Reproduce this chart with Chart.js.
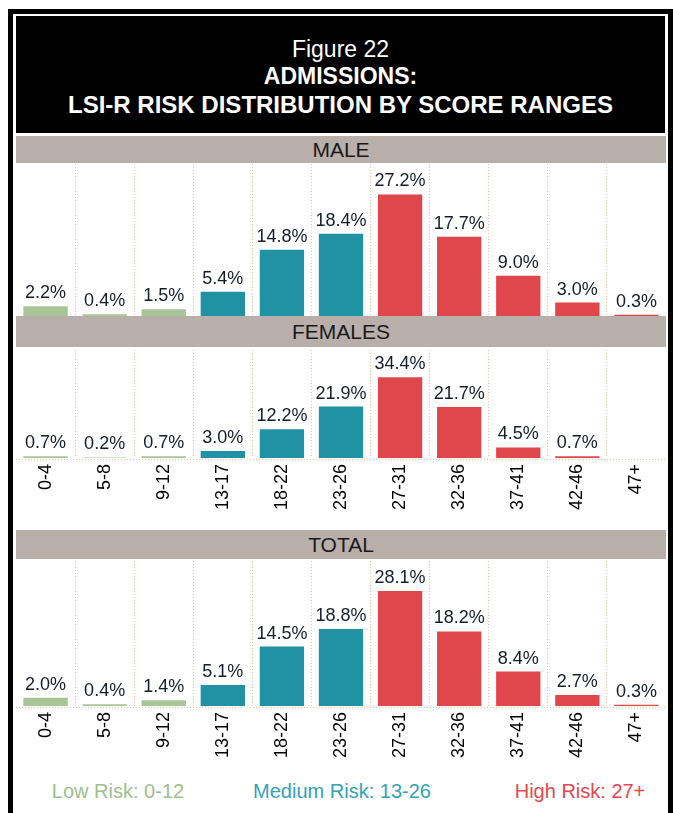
<!DOCTYPE html>
<html>
<head>
<meta charset="utf-8">
<script src="https://cdn.jsdelivr.net/npm/chart.js@4.4.1/dist/chart.umd.min.js"></script>
<style>
  body { margin: 0; background: #fff; width: 673px; height: 813px; overflow: hidden; position: relative; }
  .narrow { font-family: "Liberation Sans Narrow", "Arial Narrow", "Liberation Sans", sans-serif; }
  #frame { position: absolute; left: 8px; top: 9px; width: 665px; height: 820px; border: 5px solid #000; box-sizing: border-box; background: #fff; }
  #title { position: absolute; left: 16px; top: 16px; width: 649px; height: 117px; background: #000; color: #fff; text-align: center; }
  #title div { position: absolute; left: 0; right: 0; }
  .strip { position: absolute; left: 16px; width: 650px; background: #b8afaa; color: #1a1a1a; text-align: center; font-size: 21px; }
  .box { position: absolute; left: 16px; width: 650px; }
  .legend { position: absolute; top: 780px; font-size: 20px; text-align: center; width: 220px; }
</style>
</head>
<body>
<div id="frame"></div>
<div id="title" class="narrow">
  <div style="top:20px;font-size:23px;">Figure 22</div>
  <div style="top:47px;font-size:23px;font-weight:bold;">ADMISSIONS:</div>
  <div style="top:75px;font-size:24px;font-weight:bold;">LSI-R RISK DISTRIBUTION BY SCORE RANGES</div>
</div>

<div class="strip narrow" style="top:136px;height:27px;line-height:28px;">MALE</div>
<div class="box" style="top:164px;height:152px;"><canvas id="male"></canvas></div>

<div class="strip narrow" style="top:316px;height:31px;line-height:31px;">FEMALES</div>
<div class="box" style="top:350px;height:178px;"><canvas id="female"></canvas></div>

<div class="strip narrow" style="top:530px;height:29px;line-height:30px;">TOTAL</div>
<div class="box" style="top:561px;height:205px;"><canvas id="total"></canvas></div>

<div class="legend narrow" style="left:8px;color:#9cbf8d;">Low Risk: 0-12</div>
<div class="legend narrow" style="left:232px;color:#35a2b6;">Medium Risk: 13-26</div>
<div class="legend narrow" style="left:470px;color:#e5474f;">High Risk: 27+</div>

<script>
const categories = ['0-4', '5-8', '9-12', '13-17', '18-22', '23-26', '27-31', '32-36', '37-41', '42-46', '47+'];
const maleValues = [2.2, 0.4, 1.5, 5.4, 14.8, 18.4, 27.2, 17.7, 9.0, 3.0, 0.3];
const femaleValues = [0.7, 0.2, 0.7, 3.0, 12.2, 21.9, 34.4, 21.7, 4.5, 0.7, null];
const totalValues = [2.0, 0.4, 1.4, 5.1, 14.5, 18.8, 28.1, 18.2, 8.4, 2.7, 0.3];
const riskGroups = ['low', 'low', 'low', 'medium', 'medium', 'medium', 'high', 'high', 'high', 'high', 'high'];

const riskColors = { low: '#a8c598', medium: '#2191a4', high: '#e0474c' };
const dotColor = '#e8c7a0';

// draws the % label over each bar and the dotted baseline
const valueLabels = {
  id: 'valueLabels',
  beforeDatasetsDraw(chart, args, opts) {
    if (!opts.baseline) return;
    const { ctx, chartArea } = chart;
    ctx.save();
    ctx.strokeStyle = dotColor;
    ctx.lineWidth = 1;
    ctx.setLineDash([1, 2]);
    ctx.beginPath();
    ctx.moveTo(chartArea.left, chartArea.bottom + 1.5);
    ctx.lineTo(chartArea.right, chartArea.bottom + 1.5);
    ctx.stroke();
    ctx.restore();
  },
  afterDatasetsDraw(chart) {
    const ctx = chart.ctx;
    const data = chart.data.datasets[0].data;
    ctx.save();
    ctx.font = '18px "Liberation Sans Narrow", "Arial Narrow", "Liberation Sans", sans-serif';
    ctx.fillStyle = '#161c2a';
    ctx.textAlign = 'center';
    ctx.textBaseline = 'bottom';
    chart.getDatasetMeta(0).data.forEach((bar, i) => {
      if (data[i] == null) return;
      ctx.fillText(data[i].toFixed(1) + '%', bar.x, bar.y - 4);
    });
    ctx.restore();
  }
};

function makeChart(id, values, yMax, axisHeight, showTicks) {
  return new Chart(document.getElementById(id), {
    type: 'bar',
    data: {
      labels: categories,
      datasets: [{
        data: values,
        backgroundColor: riskGroups.map(g => riskColors[g]),
        categoryPercentage: 1,
        barPercentage: 0.75
      }]
    },
    options: {
      responsive: true,
      maintainAspectRatio: false,
      animation: false,
      layout: { padding: 0 },
      plugins: {
        legend: { display: false },
        tooltip: { enabled: false },
        valueLabels: { baseline: showTicks }
      },
      scales: {
        x: {
          grid: {
            offset: true,
            drawTicks: false,
            color: c => (c.type !== 'tick' || c.index === 0) ? 'rgba(0,0,0,0)' : dotColor
          },
          border: { display: false, dash: [1, 2] },
          ticks: {
            display: showTicks,
            minRotation: 90,
            maxRotation: 90,
            padding: 6,
            color: '#000',
            font: { family: '"Liberation Sans", Arial, sans-serif', size: 18 }
          },
          afterFit(scale) { scale.height = axisHeight; }
        },
        y: { display: false, min: 0, max: yMax }
      }
    },
    plugins: [valueLabels]
  });
}

makeChart('male', maleValues, 34, 0, false);
makeChart('female', femaleValues, 46, 70, true);
makeChart('total', totalValues, 35.4, 60, true);
</script>
</body>
</html>
